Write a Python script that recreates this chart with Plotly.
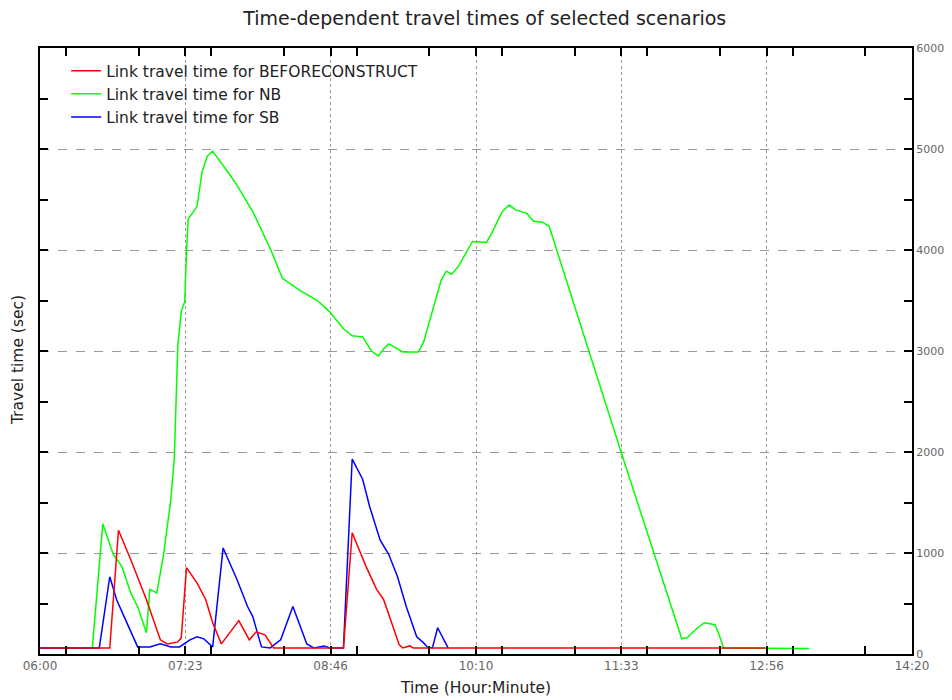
import plotly.graph_objects as go

DAY = "2000-01-01 "

# Link travel time for BEFORECONSTRUCT (sec)
red_time = ["06:00", "06:40", "06:45", "06:52", "07:01", "07:09", "07:13", "07:19", "07:21",
            "07:24", "07:30", "07:35", "07:39", "07:44", "07:54", "08:00", "08:04", "08:09",
            "08:14", "08:54", "08:59", "09:07", "09:13", "09:17", "09:26", "09:28", "09:32",
            "09:34", "12:56"]
red_val = [60, 60, 1225, 935, 540, 140, 100, 120, 160,
           855, 705, 540, 310, 100, 330, 140, 220, 190,
           60, 60, 1200, 865, 640, 540, 90, 60, 80,
           60, 60]

# Link travel time for NB (sec)
green_time = ["06:00", "06:30", "06:36", "06:42", "06:47", "06:52", "06:56", "07:01", "07:03",
              "07:07", "07:11", "07:15", "07:17", "07:19", "07:21", "07:23", "07:24", "07:25",
              "07:28", "07:30", "07:33", "07:36", "07:39", "07:42", "07:47", "07:53", "07:59",
              "08:02", "08:12", "08:19", "08:29", "08:39", "08:46", "08:54", "08:59", "09:05",
              "09:10", "09:14", "09:17", "09:20", "09:28", "09:37", "09:40", "09:45", "09:50",
              "09:53", "09:56", "10:00", "10:05", "10:08", "10:16", "10:19", "10:25", "10:29",
              "10:33", "10:39", "10:43", "10:48", "10:52", "10:56", "11:33", "12:08", "12:11",
              "12:17", "12:21", "12:27", "12:29", "12:32", "13:21"]
green_val = [60, 60, 1290, 985, 865, 605, 470, 210, 640,
             605, 1000, 1530, 1930, 3050, 3390, 3490, 3990, 4310,
             4380, 4430, 4780, 4930, 4980, 4910, 4790, 4640, 4460,
             4380, 4015, 3720, 3600, 3500, 3390, 3220, 3150, 3140,
             3000, 2950, 3020, 3070, 2990, 2990, 3090, 3390, 3700,
             3790, 3760, 3840, 4000, 4085, 4075, 4165, 4380, 4445,
             4395, 4365, 4285, 4275, 4235, 4015, 2010, 150, 160,
             260, 310, 290, 210, 60, 55]

# Link travel time for SB (sec)
blue_time = ["06:00", "06:34", "06:40", "06:44", "06:49", "06:56", "07:03", "07:09", "07:15",
             "07:20", "07:26", "07:30", "07:34", "07:39", "07:45", "07:53", "07:59", "08:02",
             "08:07", "08:12", "08:18", "08:25", "08:33", "08:37", "08:43", "08:46", "08:54",
             "08:59", "09:05", "09:09", "09:15", "09:20", "09:25", "09:30", "09:36", "09:40",
             "09:42", "09:45", "09:48", "09:54"]
blue_val = [60, 60, 765, 535, 340, 70, 70, 100, 70,
            70, 140, 170, 150, 70, 1050, 735, 470, 370,
            70, 60, 140, 470, 100, 60, 80, 60, 60,
            1930, 1730, 1460, 1130, 985, 765, 470, 170, 110,
            70, 60, 260, 60]

fig = go.Figure()
fig.add_trace(go.Scatter(x=[DAY + t for t in green_time], y=green_val, mode="lines",
                         name="Link travel time for NB", legendrank=2,
                         line=dict(color="#00ff00", width=1.5)))
fig.add_trace(go.Scatter(x=[DAY + t for t in blue_time], y=blue_val, mode="lines",
                         name="Link travel time for SB", legendrank=3,
                         line=dict(color="#0000ff", width=1.5)))
fig.add_trace(go.Scatter(x=[DAY + t for t in red_time], y=red_val, mode="lines",
                         name="Link travel time for BEFORECONSTRUCT", legendrank=1,
                         line=dict(color="#ff0000", width=1.5)))

# the page body keeps its default 8px margin, so the figure is 8px smaller
step_ms = 500 / 6 * 60000
fig.update_layout(
    width=944, height=692,
    margin=dict(l=32, r=40, t=40, b=46),
    paper_bgcolor="white", plot_bgcolor="white",
    font=dict(family="DejaVu Sans", color="#222"),
    title=dict(text="Time-dependent travel times of selected scenarios",
               x=0.505, xanchor="center", y=0.985, yanchor="middle",
               font=dict(size=19, color="#222")),
    showlegend=True,
    legend=dict(x=0.03, y=0.99, xanchor="left", yanchor="top",
                bgcolor="rgba(0,0,0,0)", font=dict(size=15.5, color="#222"),
                tracegroupgap=0),
    xaxis=dict(
        type="date", range=[DAY + "06:00", DAY + "14:20"],
        tick0=DAY + "06:00", dtick=step_ms, tickformat="%H:%M",
        tickfont=dict(size=12, color="#666"),
        ticks="inside", ticklen=8, tickwidth=2, tickcolor="black",
        showline=True, linecolor="black", linewidth=2, mirror="ticks",
        showgrid=True, gridcolor="#999", griddash="dot", gridwidth=1,
        minor=dict(ticks="inside", dtick=step_ms / 2, ticklen=8, tickwidth=2,
                   tickcolor="black", showgrid=False),
        title=dict(text="Time (Hour:Minute)", font=dict(size=15.5, color="#222"), standoff=10),
        zeroline=False, automargin=False,
    ),
    yaxis=dict(
        range=[0, 6000], side="right", tick0=0, dtick=1000,
        tickfont=dict(size=11, color="#666"),
        ticks="inside", ticklen=8, tickwidth=2, tickcolor="black",
        showline=True, linecolor="black", linewidth=2, mirror="ticks",
        showgrid=True, gridcolor="#999", griddash="dash", gridwidth=1,
        minor=dict(ticks="inside", dtick=500, ticklen=8, tickwidth=2,
                   tickcolor="black", showgrid=False),
        zeroline=False, automargin=False,
    ),
    annotations=[dict(text="Travel time (sec)", textangle=-90,
                      x=0, xref="paper", xanchor="center", xshift=-22,
                      y=0.485, yref="paper", showarrow=False,
                      font=dict(size=15.5, color="#222"))],
)

fig.write_html("out.html")
